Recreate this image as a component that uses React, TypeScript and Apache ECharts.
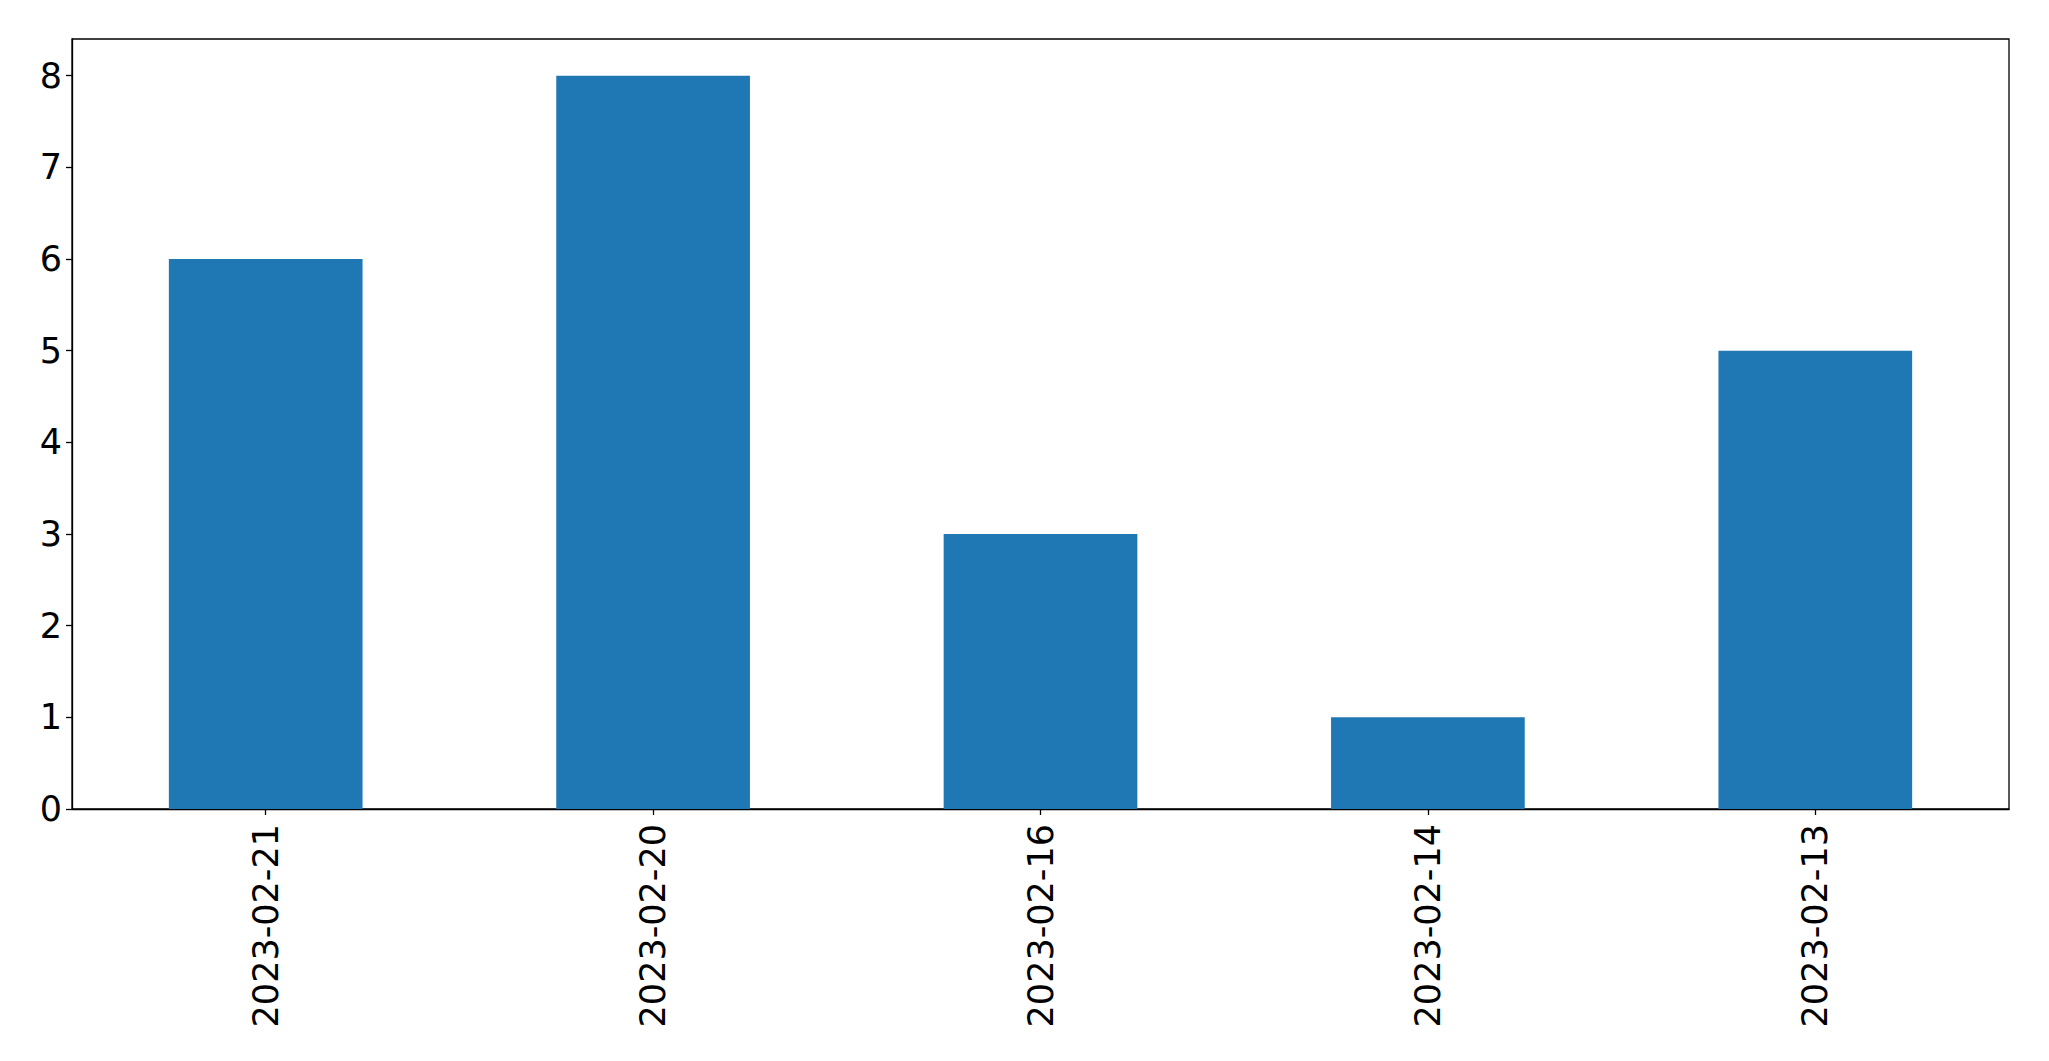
import React, { useEffect, useRef } from "react";
import * as echarts from "echarts";

const categories = ["2023-02-21", "2023-02-20", "2023-02-16", "2023-02-14", "2023-02-13"];
const counts = [6, 8, 3, 1, 5];
const yTicks = [0, 1, 2, 3, 4, 5, 6, 7, 8];

export default function App() {
  const ref = useRef<HTMLDivElement>(null);
  useEffect(() => {
    if (!ref.current) return;
    const chart = echarts.init(ref.current, null, { renderer: "svg" });
    const font = "DejaVu Sans";
    chart.setOption({
      animation: false,
      backgroundColor: "#ffffff",
      grid: {
        left: 72,
        top: 39,
        right: 2049 - 2009,
        bottom: 1061 - 809,
        show: true,
        borderColor: "#000000",
        borderWidth: 1.3,
        backgroundColor: "transparent",
      },
      xAxis: {
        type: "category",
        data: categories,
        boundaryGap: true,
        axisLine: { show: true, lineStyle: { color: "#000000", width: 1.3 } },
        axisTick: { show: true, alignWithLabel: true, length: 6, lineStyle: { color: "#000000", width: 1.3 } },
        axisLabel: {
          interval: 0,
          rotate: 90,
          margin: 15,
          color: "#000000",
          fontFamily: font,
          fontSize: 35,
        },
        splitLine: { show: false },
      },
      yAxis: {
        type: "value",
        min: 0,
        max: 8.4,
        interval: 1,
        axisLine: { show: true, lineStyle: { color: "#000000", width: 1.3 } },
        axisTick: { show: true, length: 6, lineStyle: { color: "#000000", width: 1.3 } },
        axisLabel: {
          showMaxLabel: false,
          margin: 10,
          color: "#000000",
          fontFamily: font,
          fontSize: 35,
          formatter: (v: number) => (yTicks.includes(v) ? String(v) : ""),
        },
        splitLine: { show: false },
      },
      series: [
        {
          type: "bar",
          data: counts,
          barWidth: "50%",
          itemStyle: { color: "#1f77b4" },
        },
      ],
    });
    return () => chart.dispose();
  }, []);
  return (
    <div
      ref={ref}
      style={{ position: "fixed", left: 0, top: 0, width: 2049, height: 1061, background: "#ffffff" }}
    />
  );
}
